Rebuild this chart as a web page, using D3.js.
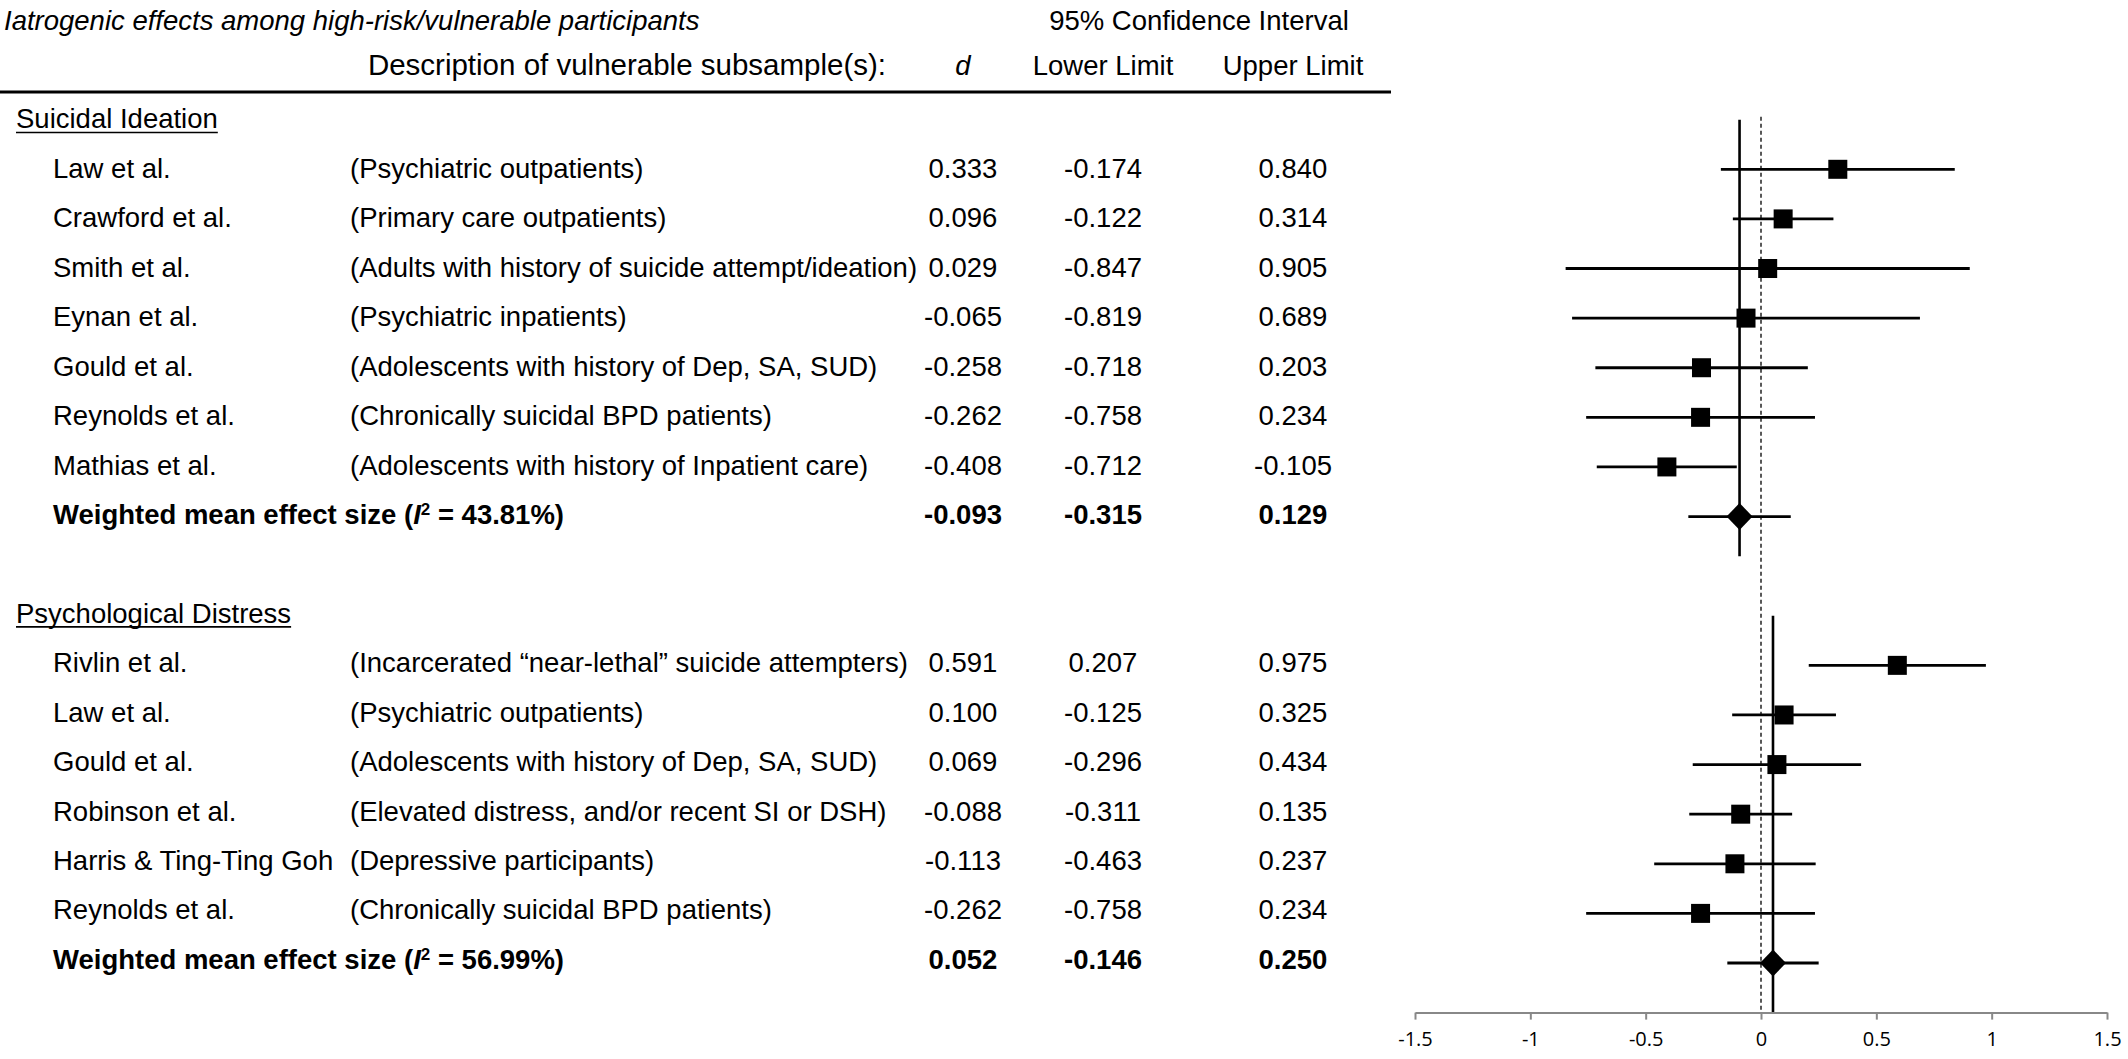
<!DOCTYPE html>
<html>
<head>
<meta charset="utf-8">
<script src="https://cdn.jsdelivr.net/npm/d3@7"></script>
<style>
  html, body { margin: 0; padding: 0; background: #fff; }
  svg { display: block; }
  .tbl { font-family: "Liberation Sans", Arial, sans-serif; font-size: 27.5px; fill: #000; }
  .axis text { font-family: "Open Sans", "Noto Sans", sans-serif; font-size: 20px; fill: #000; }
</style>
</head>
<body>
<svg id="chart" width="2128" height="1059"></svg>
<script>
// ---------------- DATA ----------------
const titleText = "Iatrogenic effects among high-risk/vulnerable participants";
const ciHeader = "95% Confidence Interval";
const descHeader = "Description of vulnerable subsample(s):";
const colHeaders = ["d", "Lower Limit", "Upper Limit"];

const sectionNames = ["Suicidal Ideation", "Psychological Distress"];

const studies1 = ["Law et al.", "Crawford et al.", "Smith et al.", "Eynan et al.", "Gould et al.", "Reynolds et al.", "Mathias et al."];
const descs1 = ["(Psychiatric outpatients)", "(Primary care outpatients)", "(Adults with history of suicide attempt/ideation)", "(Psychiatric inpatients)", "(Adolescents with history of Dep, SA, SUD)", "(Chronically suicidal BPD patients)", "(Adolescents with history of Inpatient care)"];
const d1 = [0.333, 0.096, 0.029, -0.065, -0.258, -0.262, -0.408];
const lo1 = [-0.174, -0.122, -0.847, -0.819, -0.718, -0.758, -0.712];
const hi1 = [0.840, 0.314, 0.905, 0.689, 0.203, 0.234, -0.105];

const studies2 = ["Rivlin et al.", "Law et al.", "Gould et al.", "Robinson et al.", "Harris & Ting-Ting Goh", "Reynolds et al."];
const descs2 = ["(Incarcerated \u201cnear-lethal\u201d suicide attempters)", "(Psychiatric outpatients)", "(Adolescents with history of Dep, SA, SUD)", "(Elevated distress, and/or recent SI or DSH)", "(Depressive participants)", "(Chronically suicidal BPD patients)"];
const d2 = [0.591, 0.100, 0.069, -0.088, -0.113, -0.262];
const lo2 = [0.207, -0.125, -0.296, -0.311, -0.463, -0.758];
const hi2 = [0.975, 0.325, 0.434, 0.135, 0.237, 0.234];

const summaryD = [-0.093, 0.052];
const summaryLo = [-0.315, -0.146];
const summaryHi = [0.129, 0.250];
const summaryI2 = ["43.81%", "56.99%"];

const xTicks = [-1.5, -1, -0.5, 0, 0.5, 1, 1.5];

// ---------------- BUILD ROWS ----------------
const sections = [
  {name: sectionNames[0], studies: studies1, descs: descs1, d: d1, lo: lo1, hi: hi1, sd: summaryD[0], slo: summaryLo[0], shi: summaryHi[0], i2: summaryI2[0]},
  {name: sectionNames[1], studies: studies2, descs: descs2, d: d2, lo: lo2, hi: hi2, sd: summaryD[1], slo: summaryLo[1], shi: summaryHi[1], i2: summaryI2[1]}
];
let rowIdx = 0;
sections.forEach((s, si) => {
  s.headerRow = rowIdx;
  s.rows = s.studies.map((name, k) => ({name, desc: s.descs[k], d: s.d[k], lo: s.lo[k], hi: s.hi[k], row: rowIdx + 1 + k}));
  s.summaryRow = rowIdx + 1 + s.studies.length;
  rowIdx = s.summaryRow + 2;
});
const lastRow = sections[1].summaryRow;

const fmt = v => (v < 0 ? "-" : "") + Math.abs(v).toFixed(3);

// ---------------- SCALES ----------------
const svg = d3.select("#chart");
svg.append("rect").attr("width", 2128).attr("height", 1059).attr("fill", "#fff");

const x = d3.scaleLinear().domain([-1.5, 1.5]).range([1415, 2107]);
const textY = d3.scaleLinear().domain([1, lastRow]).range([168.3, 959.3]);
const plotY = d3.scaleLinear().domain([1, lastRow]).range([169.3, 963]);
const axisY = plotY(lastRow + 1);

const colX = {name: 53, desc: 350, d: 963, lo: 1103, hi: 1293};

// ---------------- TABLE HEADER ----------------
const t = svg.append("g").attr("class", "tbl");
t.append("text").attr("x", 4).attr("y", 30).attr("font-style", "italic").text(titleText);
t.append("text").attr("x", 1199).attr("y", 30).attr("text-anchor", "middle").text(ciHeader);
t.append("text").attr("x", 886).attr("y", 75).attr("text-anchor", "end").attr("font-size", "29.5px").text(descHeader);
t.append("text").attr("x", colX.d).attr("y", 75).attr("text-anchor", "middle").attr("font-style", "italic").text(colHeaders[0]);
t.append("text").attr("x", colX.lo).attr("y", 75).attr("text-anchor", "middle").text(colHeaders[1]);
t.append("text").attr("x", colX.hi).attr("y", 75).attr("text-anchor", "middle").text(colHeaders[2]);
svg.append("line").attr("x1", 0).attr("x2", 1391).attr("y1", 92).attr("y2", 92)
  .attr("stroke", "#000").attr("stroke-width", 3);

// ---------------- TABLE BODY ----------------
sections.forEach(s => {
  const hy = textY(s.headerRow);
  const h = t.append("text").attr("x", 16).attr("y", hy).attr("dy", "0.35em").text(s.name);
  const w = h.node().getComputedTextLength();
  const base = hy + 0.35 * 27.5;
  svg.append("line").attr("x1", 16).attr("x2", 16 + w).attr("y1", base + 4).attr("y2", base + 4)
    .attr("stroke", "#000").attr("stroke-width", 1.6);

  s.rows.forEach(r => {
    const y = textY(r.row);
    t.append("text").attr("x", colX.name).attr("y", y).attr("dy", "0.35em").text(r.name);
    t.append("text").attr("x", colX.desc).attr("y", y).attr("dy", "0.35em").text(r.desc);
    t.append("text").attr("x", colX.d).attr("y", y).attr("dy", "0.35em").attr("text-anchor", "middle").text(fmt(r.d));
    t.append("text").attr("x", colX.lo).attr("y", y).attr("dy", "0.35em").attr("text-anchor", "middle").text(fmt(r.lo));
    t.append("text").attr("x", colX.hi).attr("y", y).attr("dy", "0.35em").attr("text-anchor", "middle").text(fmt(r.hi));
  });

  const sy = textY(s.summaryRow);
  const st = t.append("text").attr("x", colX.name).attr("y", sy).attr("dy", "0.35em").attr("font-weight", "bold");
  st.append("tspan").text("Weighted mean effect size (");
  st.append("tspan").attr("font-style", "italic").text("I");
  st.append("tspan").attr("font-size", "17px").attr("dy", "-0.55em").text("2");
  st.append("tspan").attr("dy", "0.35em").text(" = " + s.i2 + ")");
  t.append("text").attr("x", colX.d).attr("y", sy).attr("dy", "0.35em").attr("text-anchor", "middle").attr("font-weight", "bold").text(fmt(s.sd));
  t.append("text").attr("x", colX.lo).attr("y", sy).attr("dy", "0.35em").attr("text-anchor", "middle").attr("font-weight", "bold").text(fmt(s.slo));
  t.append("text").attr("x", colX.hi).attr("y", sy).attr("dy", "0.35em").attr("text-anchor", "middle").attr("font-weight", "bold").text(fmt(s.shi));
});

// ---------------- FOREST PLOT ----------------
const p = svg.append("g");

// zero reference (dashed)
p.append("line").attr("x1", x(0)).attr("x2", x(0))
  .attr("y1", plotY(0) - 3).attr("y2", axisY)
  .attr("stroke", "#222").attr("stroke-width", 1.5).attr("stroke-dasharray", "4,3");

// summary vertical lines
sections.forEach((s, si) => {
  const y1 = plotY(s.headerRow);
  const y2 = si === sections.length - 1 ? axisY : plotY(s.summaryRow + 0.8);
  p.append("line").attr("x1", x(s.sd)).attr("x2", x(s.sd)).attr("y1", y1).attr("y2", y2)
    .attr("stroke", "#000").attr("stroke-width", 2.6);
});

sections.forEach(s => {
  // CI lines
  p.selectAll(null).data(s.rows).join("line")
    .attr("x1", r => x(r.lo)).attr("x2", r => x(r.hi))
    .attr("y1", r => plotY(r.row)).attr("y2", r => plotY(r.row))
    .attr("stroke", "#000").attr("stroke-width", 2.8);
  // squares
  const sq = 19;
  p.selectAll(null).data(s.rows).join("rect")
    .attr("x", r => x(r.d) - sq / 2).attr("y", r => plotY(r.row) - sq / 2)
    .attr("width", sq).attr("height", sq).attr("fill", "#000");
  // summary CI + diamond
  const sy = plotY(s.summaryRow);
  p.append("line").attr("x1", x(s.slo)).attr("x2", x(s.shi)).attr("y1", sy).attr("y2", sy)
    .attr("stroke", "#000").attr("stroke-width", 2.8);
  const hw = 13, hh = 13.5;
  p.append("path")
    .attr("d", `M${x(s.sd)},${sy - hh}L${x(s.sd) + hw},${sy}L${x(s.sd)},${sy + hh}L${x(s.sd) - hw},${sy}Z`)
    .attr("fill", "#000");
});

// x axis
const ax = svg.append("g").attr("class", "axis").attr("transform", `translate(0,${axisY})`)
  .call(d3.axisBottom(x).tickValues(xTicks).tickSize(7).tickSizeOuter(0).tickPadding(12).tickFormat(v => String(v)));
ax.select(".domain").attr("stroke", "#888").attr("stroke-width", 2);
ax.selectAll(".tick line").attr("stroke", "#888").attr("stroke-width", 2);
</script>
</body>
</html>
